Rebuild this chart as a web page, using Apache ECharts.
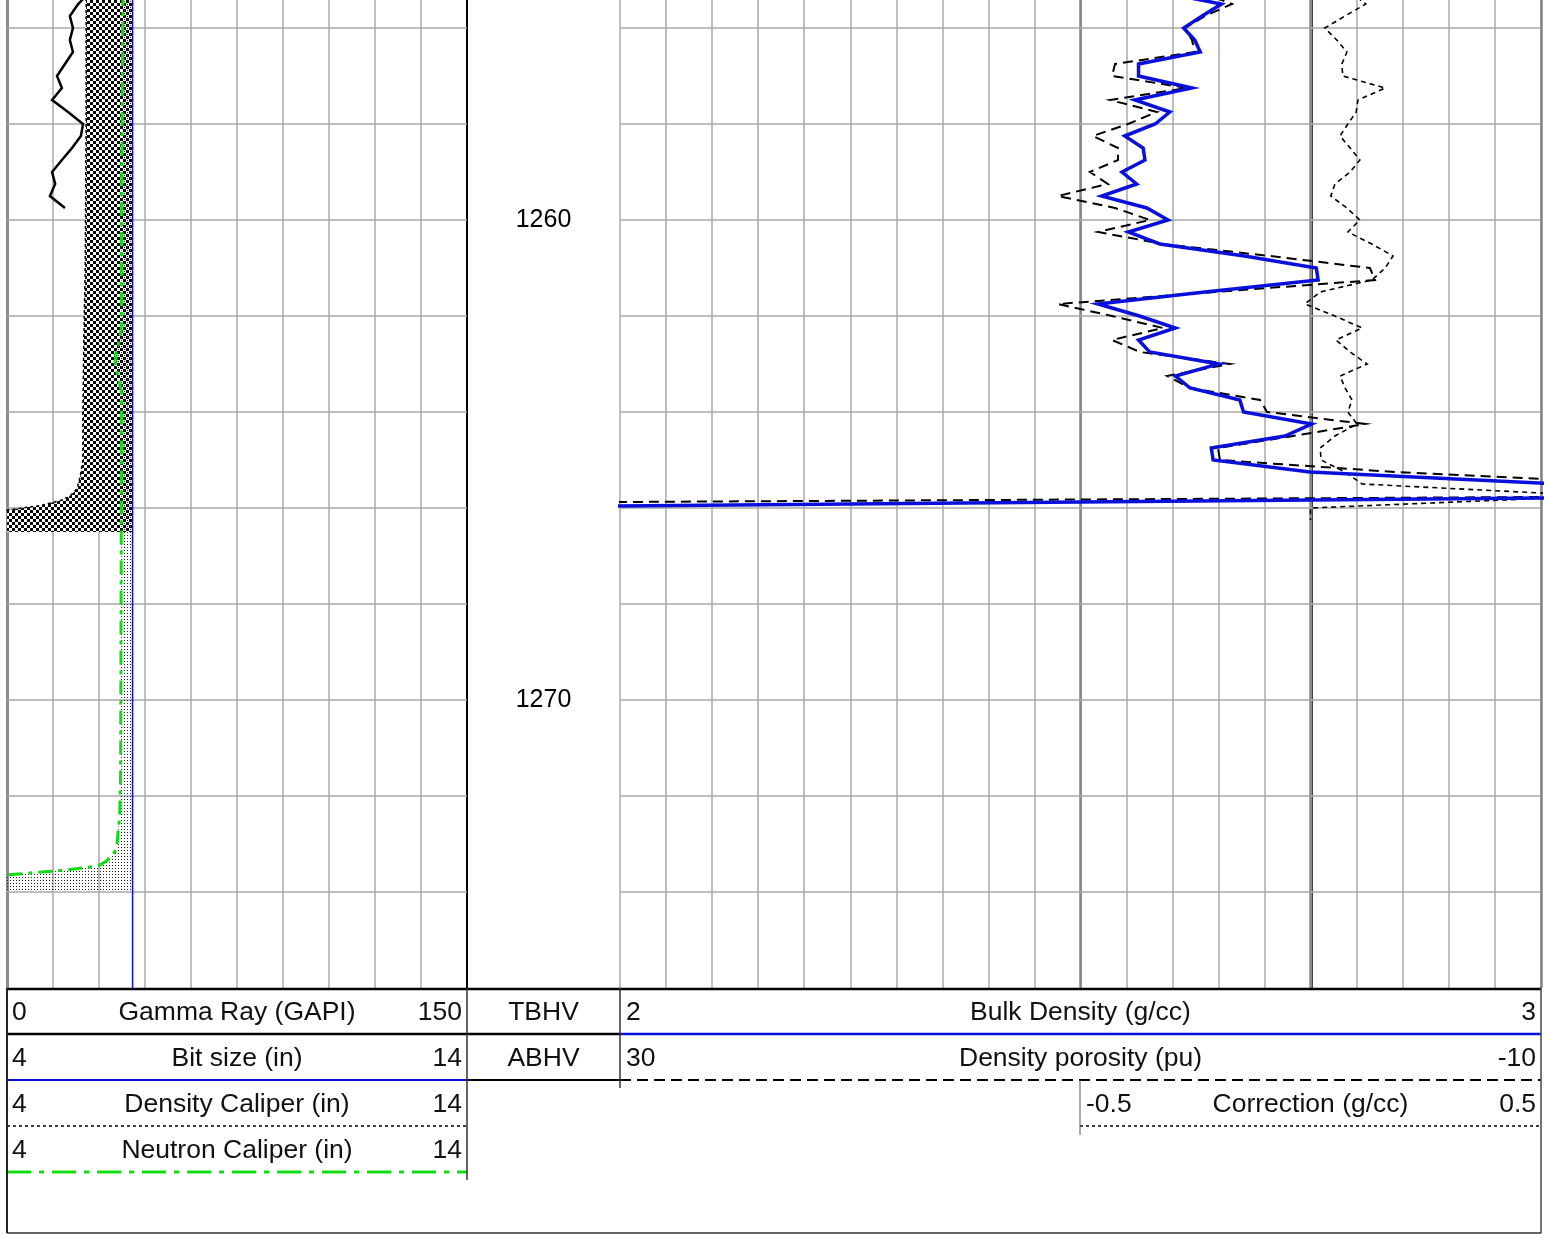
<!DOCTYPE html>
<html>
<head>
<meta charset="utf-8">
<title>Density log</title>
<script src="https://cdn.jsdelivr.net/npm/echarts@6/dist/echarts.min.js"></script>
<style>
  html, body { margin: 0; padding: 0; background: #fff; }
  #chart { width: 1554px; height: 1234px; }
</style>
</head>
<body>
<div id="chart"></div>
<script>
// ---- depth window (top of the panel sits part-way between grid lines) ----
const depthMin = 1255.41667;
const depthMax = 1276;
const gridDepths = [1256, 1258, 1260, 1262, 1264, 1266, 1268, 1270, 1272, 1274];
const depthLabels = [1260, 1270];

// ---- track 1: gamma ray ----
const grDepth = [1255.25, 1255.5, 1255.75, 1256, 1256.25, 1256.5, 1256.75, 1257, 1257.25, 1257.5,
  1257.75, 1258, 1258.25, 1258.5, 1258.75, 1259, 1259.25, 1259.5, 1259.75];
const gammaRay = [27.1, 23.2, 20.5, 21.5, 20.5, 21.5, 18.9, 16.3, 17.9, 14.7,
  19.9, 24.8, 24.1, 21.2, 17.9, 14.7, 15.7, 14.0, 18.9];

// ---- track 1: bit size and calipers ----
const bitSize = 6.73;
const bitSizeDepth = [1254, 1276];
const dcalDepth = [1255.25, 1258, 1261, 1262.5, 1264, 1265, 1265.35, 1265.6, 1265.75, 1265.85,
  1265.95, 1266, 1266.05, 1266.1, 1266.5];
const densityCaliper = [5.72, 5.72, 5.70, 5.67, 5.65, 5.65, 5.59, 5.52, 5.37, 5.15,
  4.72, 4.33, 3.96, 3.7, 3.7];
const ncalDepth = [1255.25, 1260, 1262.2, 1262.5, 1262.75, 1263, 1263.2, 1263.6, 1268, 1271.5,
  1272.4, 1273, 1273.15, 1273.35, 1273.46, 1273.54, 1273.6, 1273.64, 1273.68, 1274];
const neutronCaliper = [6.52, 6.49, 6.49, 6.45, 6.37, 6.35, 6.40, 6.49, 6.48, 6.47,
  6.45, 6.39, 6.35, 6.17, 5.98, 5.30, 4.57, 4.03, 3.63, 3.63];

// ---- track 3: density tool ----
const densDepth = [1255.25, 1255.5, 1255.75, 1256, 1256.25, 1256.5, 1256.75, 1257, 1257.25, 1257.5,
  1257.75, 1258, 1258.25, 1258.5, 1258.75, 1259, 1259.25, 1259.5, 1259.75, 1260,
  1260.25, 1260.5, 1260.75, 1261, 1261.25, 1261.5, 1261.75, 1262, 1262.25, 1262.5,
  1262.75, 1263, 1263.25, 1263.5, 1263.75, 1264, 1264.25, 1264.5, 1264.75, 1265,
  1265.25, 1265.5, 1265.75, 1266];
const bulkDensity = [2.586, 2.653, 2.632, 2.612, 2.624, 2.630, 2.563, 2.563, 2.621, 2.559,
  2.597, 2.581, 2.548, 2.568, 2.570, 2.545, 2.561, 2.523, 2.572, 2.595,
  2.552, 2.586, 2.678, 2.756, 2.758, 2.635, 2.519, 2.564, 2.603, 2.563,
  2.575, 2.650, 2.603, 2.619, 2.673, 2.677, 2.751, 2.722, 2.642, 2.644,
  2.749, 3.021, 3.250, 1.750];
const densityPorosity = [4.81, 3.42, 4.59, 5.46, 5.16, 5.03, 8.50, 8.63, 5.37, 8.72,
  6.68, 7.94, 9.46, 8.37, 8.37, 9.59, 8.81, 10.98, 8.50, 6.98,
  9.24, 6.42, 1.77, -2.57, -2.79, 4.16, 10.98, 8.63, 6.42, 8.63,
  7.42, 3.51, 6.24, 5.24, 2.20, 1.90, -2.36, 0.77, 4.03, 3.94,
  -3.66, -14.73, -18.0, 78.0];
const corrDepth = [1255.25, 1255.5, 1255.75, 1256, 1256.25, 1256.5, 1256.75, 1257, 1257.25, 1257.5,
  1257.75, 1258, 1258.25, 1258.5, 1258.75, 1259, 1259.25, 1259.5, 1259.75, 1260,
  1260.25, 1260.5, 1260.75, 1261, 1261.25, 1261.5, 1261.75, 1262, 1262.25, 1262.5,
  1262.75, 1263, 1263.25, 1263.5, 1263.75, 1264, 1264.25, 1264.5, 1264.75, 1265,
  1265.25, 1265.5, 1265.75, 1266, 1266.25];
const correction = [0.086, 0.120, 0.075, 0.031, 0.057, 0.079, 0.068, 0.070, 0.162, 0.103,
  0.099, 0.081, 0.064, 0.086, 0.107, 0.086, 0.053, 0.044, 0.079, 0.107,
  0.081, 0.133, 0.179, 0.162, 0.133, 0.021, -0.012, 0.053, 0.112, 0.055,
  0.086, 0.123, 0.064, 0.075, 0.090, 0.081, 0.101, 0.053, 0.021, 0.023,
  0.075, 0.112, 0.628, 0.0, 0.0];

// ---- header text ----
const track1Titles = ['Gamma Ray (GAPI)', 'Bit size (in)', 'Density Caliper (in)', 'Neutron Caliper (in)'];
const track1Min = ['0', '4', '4', '4'];
const track1Max = ['150', '14', '14', '14'];
const depthTitles = ['TBHV', 'ABHV'];
const track3Titles = ['Bulk Density (g/cc)', 'Density porosity (pu)', 'Correction (g/cc)'];
const track3Min = ['2', '30', '-0.5'];
const track3Max = ['3', '-10', '0.5'];

// ---- layout ----
const X0 = 7, X1 = 467, X2 = 620, XC = 1080, X3 = 1541;
const PLOT_TOP = 0, PLOT_BOTTOM = 988, HEAD_BOTTOM = 1233, ROW_H = 46;
const FAMILY = '"Liberation Sans", Arial, sans-serif';
const FONT = '26.5px ' + FAMILY;
const BLUE = '#0a10dc';
const GREEN = '#12dd12';
const GRID = '#a8a8a8';

function pairs(vals, depths) { return vals.map((v, i) => [v, depths[i]]); }

// fill patterns
function checkerPattern() {
  const c = document.createElement('canvas');
  c.width = 6; c.height = 6;
  const g = c.getContext('2d');
  g.fillStyle = '#fff'; g.fillRect(0, 0, 6, 6);
  g.fillStyle = '#000'; g.fillRect(0, 0, 3, 3); g.fillRect(3, 3, 3, 3);
  return { image: c, repeat: 'repeat' };
}
function dotPattern() {
  const c = document.createElement('canvas');
  c.width = 3; c.height = 3;
  const g = c.getContext('2d');
  g.fillStyle = '#222'; g.fillRect(1, 1, 1, 1);
  return { image: c, repeat: 'repeat' };
}

function clipOf(cs) {
  return { type: 'rect', shape: { x: cs.x, y: cs.y, width: cs.width, height: cs.height } };
}

// polygon between a caliper curve and the bit size
function fillToBit(depths, vals, fill, z) {
  return {
    type: 'custom', xAxisIndex: 0, yAxisIndex: 0, z: z, silent: true, animation: false,
    data: [[bitSize, depths[0]]],
    renderItem: function (params, api) {
      const pts = depths.map((d, i) => api.coord([vals[i], d]));
      pts.push(api.coord([bitSize, depths[depths.length - 1]]));
      pts.push(api.coord([bitSize, depths[0]]));
      return {
        type: 'polygon', shape: { points: pts }, style: { fill: fill, stroke: null },
        clipPath: clipOf(params.coordSys)
      };
    }
  };
}

// horizontal depth grid lines of one track
function depthGrid(xi, yi, xRef) {
  return {
    type: 'custom', xAxisIndex: xi, yAxisIndex: yi, z: 1, silent: true, animation: false,
    data: gridDepths.map(d => [xRef, d]),
    encode: { x: 0, y: 1 },
    renderItem: function (params, api) {
      const cs = params.coordSys;
      const y = Math.round(api.coord([api.value(0), api.value(1)])[1]);
      return {
        type: 'line', shape: { x1: cs.x, y1: y, x2: cs.x + cs.width, y2: y },
        style: { stroke: GRID, lineWidth: 1.5 }
      };
    }
  };
}

function lineSeries(name, xi, yi, data, color, width, dash, z) {
  return {
    name: name, type: 'line', xAxisIndex: xi, yAxisIndex: yi, data: data,
    symbol: 'none', showSymbol: false, clip: true, animation: false, z: z || 5,
    lineStyle: { color: color, width: width, type: dash || 'solid', cap: 'butt', join: 'miter' }
  };
}

function depthAxis(gridIndex, opts) {
  return Object.assign({
    type: 'value', gridIndex: gridIndex, min: depthMin, max: depthMax,
    inverse: true, axisTick: { show: false }, axisLabel: { show: false },
    axisLine: { show: false }, splitLine: { show: false }
  }, opts || {});
}
function hiddenX(gridIndex, min, max, opts) {
  return Object.assign({
    type: 'value', gridIndex: gridIndex, min: min, max: max, position: 'top',
    axisTick: { show: false }, axisLabel: { show: false }, axisLine: { show: false },
    splitLine: { show: false }
  }, opts || {});
}

// ---- header graphics ----
const gfx = [];
function hline(y, xa, xb, color, w, dash) {
  gfx.push({ type: 'line', silent: true, z: 10, shape: { x1: xa, y1: y, x2: xb, y2: y },
    style: { stroke: color, lineWidth: w, lineDash: dash || null } });
}
function vline(x, ya, yb, color, w) {
  gfx.push({ type: 'line', silent: true, z: 10, shape: { x1: x, y1: ya, x2: x, y2: yb },
    style: { stroke: color, lineWidth: w } });
}
function text(s, x, y, align) {
  gfx.push({ type: 'text', silent: true, z: 10, x: x, y: y,
    style: { text: s, font: FONT, fill: '#111', align: align, textAlign: align,
      verticalAlign: 'middle', textVerticalAlign: 'middle' } });
}
function rowMid(i) { return PLOT_BOTTOM + ROW_H * i + 25; }

track1Titles.forEach((t, i) => {
  text(track1Min[i], X0 + 5, rowMid(i), 'left');
  text(t, (X0 + X1) / 2, rowMid(i), 'center');
  text(track1Max[i], X1 - 5, rowMid(i), 'right');
});
depthTitles.forEach((t, i) => text(t, (X1 + X2) / 2, rowMid(i), 'center'));
text(track3Min[0], X2 + 6, rowMid(0), 'left');
text(track3Titles[0], (X2 + X3) / 2, rowMid(0), 'center');
text(track3Max[0], X3 - 5, rowMid(0), 'right');
text(track3Min[1], X2 + 6, rowMid(1), 'left');
text(track3Titles[1], (X2 + X3) / 2, rowMid(1), 'center');
text(track3Max[1], X3 - 5, rowMid(1), 'right');
text(track3Min[2], XC + 6, rowMid(2), 'left');
text(track3Titles[2], (XC + X3) / 2, rowMid(2), 'center');
text(track3Max[2], X3 - 5, rowMid(2), 'right');

hline(PLOT_BOTTOM + 1, X0, X3, '#000', 2.5);
hline(PLOT_BOTTOM + ROW_H, X0, X2, '#000', 2.5);
hline(PLOT_BOTTOM + ROW_H, X2, X3, BLUE, 2.5);
hline(PLOT_BOTTOM + ROW_H * 2, X0, X1, BLUE, 2);
hline(PLOT_BOTTOM + ROW_H * 2, X1, X2, '#000', 2);
hline(PLOT_BOTTOM + ROW_H * 2, X2, X3, '#000', 2, [11, 6]);
hline(PLOT_BOTTOM + ROW_H * 3, X0, X1, '#000', 1.5, [3, 3]);
hline(PLOT_BOTTOM + ROW_H * 3, XC, X3, '#000', 1.5, [3, 3]);
hline(PLOT_BOTTOM + ROW_H * 4, X0, X1, GREEN, 3, [24, 8, 5, 8]);
vline(X1, PLOT_BOTTOM, PLOT_BOTTOM + ROW_H * 4 + 8, '#333', 1.5);
vline(X2, PLOT_BOTTOM, PLOT_BOTTOM + ROW_H * 2 + 8, '#333', 1.5);
vline(XC, PLOT_BOTTOM + ROW_H * 2, PLOT_BOTTOM + ROW_H * 3 + 9, '#555', 1);
vline(X0, PLOT_BOTTOM, HEAD_BOTTOM, '#222', 2);
vline(X3, PLOT_BOTTOM, HEAD_BOTTOM, '#444', 1.5);
hline(HEAD_BOTTOM, X0, X3, '#333', 1.5);

// ---- chart ----
const plotH = PLOT_BOTTOM - PLOT_TOP;
const option = {
  animation: false,
  backgroundColor: '#fff',
  grid: [
    { left: X0, top: PLOT_TOP, width: X1 - X0, height: plotH },
    { left: X1, top: PLOT_TOP, width: X2 - X1, height: plotH },
    { left: X2, top: PLOT_TOP, width: X3 - X2, height: plotH },
    { left: XC, top: PLOT_TOP, width: X3 - XC, height: plotH }
  ],
  xAxis: [
    hiddenX(0, 4, 14, { interval: 1, splitLine: { show: true, lineStyle: { color: GRID, width: 1.5 } } }),
    hiddenX(0, 0, 150),
    hiddenX(1, 0, 1),
    hiddenX(2, 2, 3, { interval: 0.05, splitLine: { show: true, lineStyle: { color: GRID, width: 1.5 } } }),
    hiddenX(2, -10, 30, { inverse: true }),
    hiddenX(3, -0.5, 0.5, { interval: 0.5, splitLine: { show: true, lineStyle: { color: '#858585', width: 2.5 } } })
  ],
  yAxis: [
    depthAxis(0, { axisLine: { show: true, lineStyle: { color: '#8a8a8a', width: 3 } } }),
    depthAxis(1, { axisLine: { show: true, lineStyle: { color: '#000', width: 2 } } }),
    depthAxis(2, { axisLine: { show: true, lineStyle: { color: '#000', width: 2.5 } } }),
    depthAxis(3, { position: 'right', axisLine: { show: true, lineStyle: { color: '#8a8a8a', width: 2 } } })
  ],
  series: [
    depthGrid(0, 0, 4),
    depthGrid(3, 2, 2),
    fillToBit(dcalDepth, densityCaliper, checkerPattern(), 2),
    fillToBit(ncalDepth, neutronCaliper, dotPattern(), 3),
    {
      type: 'scatter', xAxisIndex: 2, yAxisIndex: 1, silent: true, animation: false,
      data: depthLabels.map(d => [0.5, d]), symbolSize: 1,
      itemStyle: { color: 'rgba(0,0,0,0)', opacity: 1 },
      label: { show: true, position: 'inside', color: '#000', opacity: 1, fontSize: 25,
        fontFamily: FAMILY, formatter: p => String(p.value[1]) }
    },
    lineSeries('Gamma Ray', 1, 0, pairs(gammaRay, grDepth), '#000', 2.5, 'solid', 6),
    lineSeries('Bit size', 0, 0, bitSizeDepth.map(d => [bitSize, d]), BLUE, 1.5, 'solid', 5),
    lineSeries('Density Caliper', 0, 0, pairs(densityCaliper, dcalDepth), '#000', 1.5, [3, 3], 5),
    lineSeries('Neutron Caliper', 0, 0, pairs(neutronCaliper, ncalDepth), GREEN, 3, [14, 6, 4, 6], 6),
    lineSeries('Bulk Density', 3, 2, pairs(bulkDensity, densDepth), BLUE, 3.5, 'solid', 7),
    lineSeries('Density porosity', 4, 2, pairs(densityPorosity, densDepth), '#000', 2, [10, 6], 6),
    lineSeries('Correction', 5, 3, pairs(correction, corrDepth), '#000', 1.6, [5, 4], 6)
  ],
  graphic: gfx
};

const chart = echarts.init(document.getElementById('chart'), null, { renderer: 'canvas' });
chart.setOption(option);
</script>
</body>
</html>
